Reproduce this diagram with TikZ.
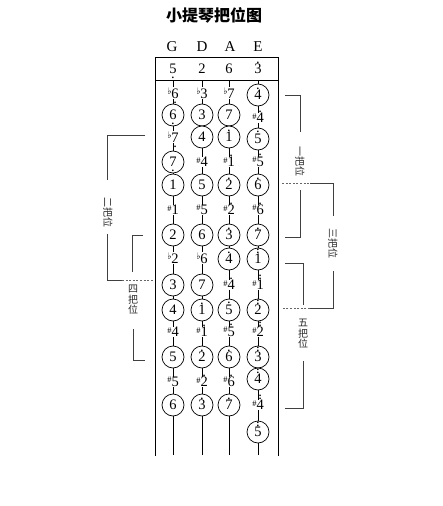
\documentclass[tikz,border=0pt]{standalone}
\usepackage{fontspec}
\setmainfont{Liberation Serif}
\newfontfamily\cjk{Noto Sans CJK SC}
\newfontfamily\symf{DejaVu Sans}
\newsavebox\nbox
\newcommand\hdot[1]{\sbox\nbox{#1}\rlap{\makebox[\wd\nbox]{\smash{\raisebox{0.74em}{.}}}}\usebox\nbox}
\newcommand\hddot[1]{\sbox\nbox{#1}\rlap{\makebox[\wd\nbox]{\smash{\raisebox{0.70em}{.}}}}\rlap{\makebox[\wd\nbox]{\smash{\raisebox{0.92em}{.}}}}\usebox\nbox}
\newcommand\ldot[1]{\sbox\nbox{#1}\rlap{\makebox[\wd\nbox]{\smash{\raisebox{-0.33em}{.}}}}\usebox\nbox}
\newcommand\shp{\raisebox{0.26em}{\fontsize{8.5}{8.5}\selectfont\#}}
\newcommand\flt{\raisebox{0.28em}{\symf\fontsize{9}{9}\selectfont ♭}}
\tikzset{
  note/.style={font=\fontsize{14.5}{15}\selectfont},
  circ/.style={note, circle, draw, line width=0.7pt, minimum size=22pt, inner sep=0pt, fill=white},
  acc/.style={note, fill=white, inner sep=0.6pt},
  strline/.style={line width=0.8pt},
  frameline/.style={line width=0.9pt},
  brk/.style={line width=0.9pt, black!75},
  brkdot/.style={line width=0.9pt, black!60, dash pattern=on 2pt off 1.6pt},
  plabel/.style={font=\cjk\fontsize{10}{10.5}\selectfont, inner sep=0pt, black!85},
  strlabel/.style={font=\fontsize{15}{15}\selectfont},
}
\begin{document}
\begin{tikzpicture}[x=1pt,y=-1pt]
\useasboundingbox (0,0) rectangle (443,506);
% title and string names
\node (title) at (214,15) {\cjk\bfseries\fontsize{16}{16}\selectfont 小提琴把位图};
\node[strlabel] (lG) at (172,47) {G};
\node[strlabel] (lD) at (202,47) {D};
\node[strlabel] (lA) at (230,47) {A};
\node[strlabel] (lE) at (258,47) {E};
% frame
\coordinate (fTL) at (155,57); \coordinate (fTR) at (278,57);
\coordinate (fML) at (155,80); \coordinate (fMR) at (278,80);
\coordinate (fBL) at (155,456); \coordinate (fBR) at (278,456);
\draw[frameline] (fBL) -- (fTL) -- (fTR) -- (fBR);
\draw[frameline] (fML) -- (fMR);
% strings
\foreach \n/\x in {g/173,d/202,a/229,e/258}{
  \coordinate (\n T) at (\x,80); \coordinate (\n B) at (\x,455);
  \draw[strline] (\n T) -- (\n B);
}
% open strings
\node[note] (go) at (173,69) {\ldot{5}};
\node[note] (do) at (202,69) {2};
\node[note] (ao) at (229,69) {6};
\node[note] (eo) at (258,69) {\hdot{3}};
% G string
\node[acc]  (g0)  at (173,93)  {\flt\ldot{6}};
\node[circ] (g1)  at (173,115) {\ldot{6}};
\node[acc]  (g2)  at (173,137) {\flt\ldot{7}};
\node[circ] (g3)  at (173,162) {\ldot{7}};
\node[circ] (g4)  at (173,185) {1};
\node[acc]  (g5)  at (173,210) {\shp1};
\node[circ] (g6)  at (173,235) {2};
\node[acc]  (g7)  at (173,258) {\flt2};
\node[circ] (g8)  at (173,285) {3};
\node[circ] (g9)  at (173,310) {4};
\node[acc]  (g10) at (173,332) {\shp4};
\node[circ] (g11) at (173,357) {5};
\node[acc]  (g12) at (173,382) {\shp5};
\node[circ] (g13) at (173,405) {6};
% D string
\node[acc]  (d0)  at (202,93)  {\flt3};
\node[circ] (d1)  at (202,115) {3};
\node[circ] (d2)  at (202,137) {4};
\node[acc]  (d3)  at (202,162) {\shp4};
\node[circ] (d4)  at (202,185) {5};
\node[acc]  (d5)  at (202,210) {\shp5};
\node[circ] (d6)  at (202,235) {6};
\node[acc]  (d7)  at (202,258) {\flt6};
\node[circ] (d8)  at (202,285) {7};
\node[circ] (d9)  at (202,310) {\hdot{1}};
\node[acc]  (d10) at (202,332) {\shp\hdot{1}};
\node[circ] (d11) at (202,357) {\hdot{2}};
\node[acc]  (d12) at (202,382) {\shp\hdot{2}};
\node[circ] (d13) at (202,405) {\hdot{3}};
% A string
\node[acc]  (a0)  at (229,93)  {\flt7};
\node[circ] (a1)  at (229,115) {7};
\node[circ] (a2)  at (229,137) {\hdot{1}};
\node[acc]  (a3)  at (229,162) {\shp\hdot{1}};
\node[circ] (a4)  at (229,185) {\hdot{2}};
\node[acc]  (a5)  at (229,210) {\shp\hdot{2}};
\node[circ] (a6)  at (229,235) {\hdot{3}};
\node[circ] (a7)  at (229,259) {\hdot{4}};
\node[acc]  (a8)  at (229,285) {\shp\hdot{4}};
\node[circ] (a9)  at (229,310) {\hdot{5}};
\node[acc]  (a10) at (229,332) {\shp\hdot{5}};
\node[circ] (a11) at (229,357) {\hdot{6}};
\node[acc]  (a12) at (229,382) {\shp\hdot{6}};
\node[circ] (a13) at (229,405) {\hdot{7}};
% E string
\node[circ] (e0)  at (258,95)  {\hdot{4}};
\node[acc]  (e1)  at (258,118) {\shp\hdot{4}};
\node[circ] (e2)  at (258,139) {\hdot{5}};
\node[acc]  (e3)  at (258,162) {\shp\hdot{5}};
\node[circ] (e4)  at (258,185) {\hdot{6}};
\node[acc]  (e5)  at (258,210) {\shp\hdot{6}};
\node[circ] (e6)  at (258,235) {\hdot{7}};
\node[circ] (e7)  at (258,259) {\hddot{1}};
\node[acc]  (e8)  at (258,285) {\shp\hddot{1}};
\node[circ] (e9)  at (258,310) {\hddot{2}};
\node[acc]  (e10) at (258,332) {\shp\hddot{2}};
\node[circ] (e11) at (258,357) {\hddot{3}};
\node[circ] (e12) at (258,379) {\hddot{4}};
\node[acc]  (e13) at (258,405) {\shp\hddot{4}};
\node[circ] (e14) at (258,432) {\hddot{5}};
% right brackets
\node[plabel, rotate=-90] (t1) at (300,161) {一把位};
\coordinate (b1a) at (285,95);  \coordinate (b1b) at (300,95);  \coordinate (b1c) at (300,132);
\coordinate (b1d) at (300,190); \coordinate (b1e) at (300,237); \coordinate (b1f) at (285,237);
\draw[brk] (b1a) -- (b1b) -- (b1c);
\draw[brk] (b1d) -- (b1e) -- (b1f);
\node[plabel, rotate=-90] (t3) at (333,243) {三把位};
\coordinate (b3a) at (282,183); \coordinate (b3b) at (310,183); \coordinate (b3c) at (333,183); \coordinate (b3d) at (333,216);
\coordinate (b3e) at (333,271); \coordinate (b3f) at (333,308); \coordinate (b3g) at (310,308); \coordinate (b3h) at (282,308);
\draw[brkdot] (b3a) -- (b3b);
\draw[brk] (b3b) -- (b3c) -- (b3d);
\draw[brk] (b3e) -- (b3f) -- (b3g);
\draw[brkdot] (b3g) -- (b3h);
\node[plabel, align=center] (t5) at (303,334) {五\\把\\位};
\coordinate (b5a) at (285,263); \coordinate (b5b) at (303,263); \coordinate (b5c) at (303,305);
\coordinate (b5d) at (303,361); \coordinate (b5e) at (303,408); \coordinate (b5f) at (285,408);
\draw[brk] (b5a) -- (b5b) -- (b5c);
\draw[brk] (b5d) -- (b5e) -- (b5f);
% left brackets
\node[plabel, rotate=-90] (t2) at (108,212) {二把位};
\coordinate (b2a) at (145,135); \coordinate (b2b) at (107,135); \coordinate (b2c) at (107,180);
\coordinate (b2d) at (107,234); \coordinate (b2e) at (107,280); \coordinate (b2f) at (122,280); \coordinate (b2g) at (153,280);
\draw[brk] (b2a) -- (b2b) -- (b2c);
\draw[brk] (b2d) -- (b2e) -- (b2f);
\draw[brkdot] (b2f) -- (b2g);
\node[plabel, align=center] (t4) at (133,300) {四\\把\\位};
\coordinate (b4a) at (143,235); \coordinate (b4b) at (132,235); \coordinate (b4c) at (132,272);
\coordinate (b4d) at (133,329); \coordinate (b4e) at (133,360); \coordinate (b4f) at (145,360);
\draw[brk] (b4a) -- (b4b) -- (b4c);
\draw[brk] (b4d) -- (b4e) -- (b4f);
\end{tikzpicture}
\end{document}
